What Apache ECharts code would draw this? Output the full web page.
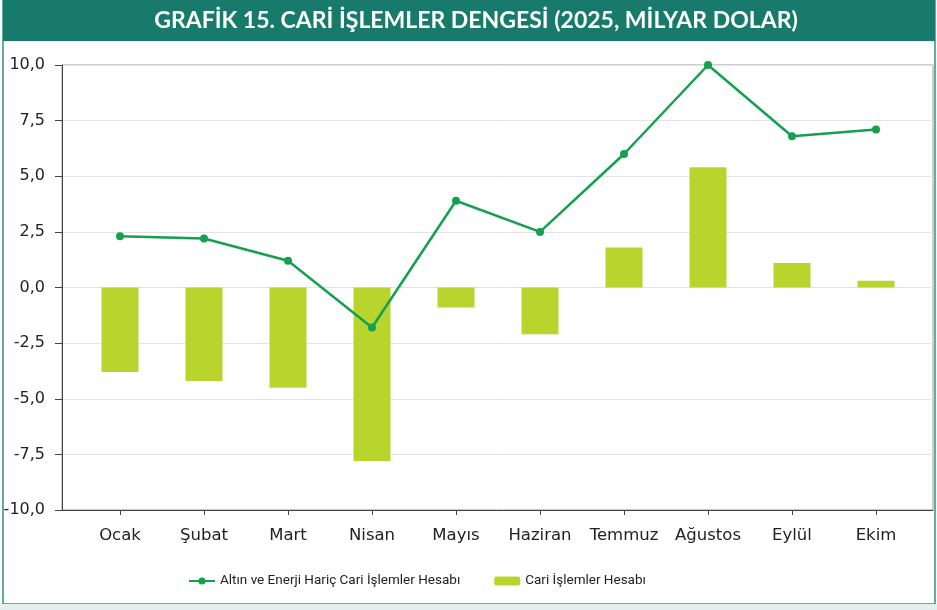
<!DOCTYPE html>
<html><head><meta charset="utf-8">
<script src="https://cdn.jsdelivr.net/npm/echarts@6/dist/echarts.min.js"></script>
<style>html,body{margin:0;padding:0;background:#fff}#c{width:937px;height:610px}</style>
</head><body><div id="c"></div>
<script>
const titleText = 'GRAFİK 15. CARİ İŞLEMLER DENGESİ (2025, MİLYAR DOLAR)';
const categories = ['Ocak','Şubat','Mart','Nisan','Mayıs','Haziran','Temmuz','Ağustos','Eylül','Ekim'];
const lineName = 'Altın ve Enerji Hariç Cari İşlemler Hesabı';
const barName = 'Cari İşlemler Hesabı';
const lineValues = [2.3, 2.2, 1.2, -1.8, 3.9, 2.5, 6.0, 10.0, 6.8, 7.1];
const barValues = [-3.8, -4.2, -4.5, -7.8, -0.9, -2.1, 1.8, 5.4, 1.1, 0.3];
const yMin = -10, yMax = 10, yInterval = 2.5;

const chart = echarts.init(document.getElementById('c'), null, {renderer: 'canvas'});
const fmt = v => v.toFixed(1).replace('.', ',');
const gTop = 65, gBottom = 100;
chart.setOption({
  animation: false,
  backgroundColor: '#fff',
  graphic: [
    {type: 'rect', shape: {x: 3, y: 0, width: 932, height: 604}, style: {fill: 'none', stroke: '#2f9383', lineWidth: 1.5}, z: 0},
    {type: 'rect', shape: {x: 0, y: 604, width: 937, height: 6}, style: {fill: '#e3f0ee'}, z: 0},
    {type: 'rect', shape: {x: 3, y: 0, width: 932, height: 41}, style: {fill: '#177a6a'}, z: 1},
    {type: 'text', x: 476, y: 21, style: {text: titleText, fill: '#fff', font: 'bold 23px Lato', align: 'center', verticalAlign: 'middle'}, z: 2}
  ],
  legend: {
    top: 569, left: 183,
    itemWidth: 26, itemHeight: 9, itemGap: 34,
    textStyle: {fontFamily: 'Roboto', fontSize: 13.5, color: '#222'},
    data: [lineName, barName]
  },
  grid: [
    {left: 62, right: 4, top: gTop, bottom: gBottom, show: true, borderColor: '#999', borderWidth: 1},
    {left: 78, right: 19, top: gTop, bottom: gBottom}
  ],
  xAxis: [
    {gridIndex: 0, type: 'value', min: 0, max: 1, position: 'bottom',
     axisLine: {show: true, onZero: false, lineStyle: {color: '#444', width: 1}},
     axisTick: {show: false}, axisLabel: {show: false}, splitLine: {show: false}},
    {gridIndex: 1, type: 'category', data: categories, position: 'bottom',
     axisLine: {show: false, onZero: false},
     axisTick: {show: true, alignWithLabel: true, length: 5, lineStyle: {color: '#444'}},
     axisLabel: {interval: 0, hideOverlap: false, fontFamily: 'DejaVu Sans', fontSize: 16.5, color: '#222', margin: 17}}
  ],
  yAxis: [
    {gridIndex: 0, type: 'value', min: yMin, max: yMax, interval: yInterval,
     axisLine: {show: true, lineStyle: {color: '#444', width: 1}},
     axisTick: {show: true, length: 7, lineStyle: {color: '#444'}},
     axisLabel: {formatter: fmt, fontFamily: 'DejaVu Sans', fontSize: 16, color: '#222', margin: 17},
     splitLine: {show: true, lineStyle: {color: '#e6e2e2', width: 1}}},
    {gridIndex: 1, type: 'value', min: yMin, max: yMax, interval: yInterval, show: false, splitLine: {show: false}}
  ],
  series: [
    {name: lineName, type: 'line', xAxisIndex: 1, yAxisIndex: 1, data: lineValues,
     symbol: 'circle', symbolSize: 8, z: 5,
     itemStyle: {color: '#14a04e'}, lineStyle: {color: '#14a04e', width: 2.5}},
    {name: barName, type: 'bar', xAxisIndex: 1, yAxisIndex: 1, data: barValues,
     barWidth: 37, itemStyle: {color: '#bad42e'}, z: 3}
  ]
});
</script></body></html>
